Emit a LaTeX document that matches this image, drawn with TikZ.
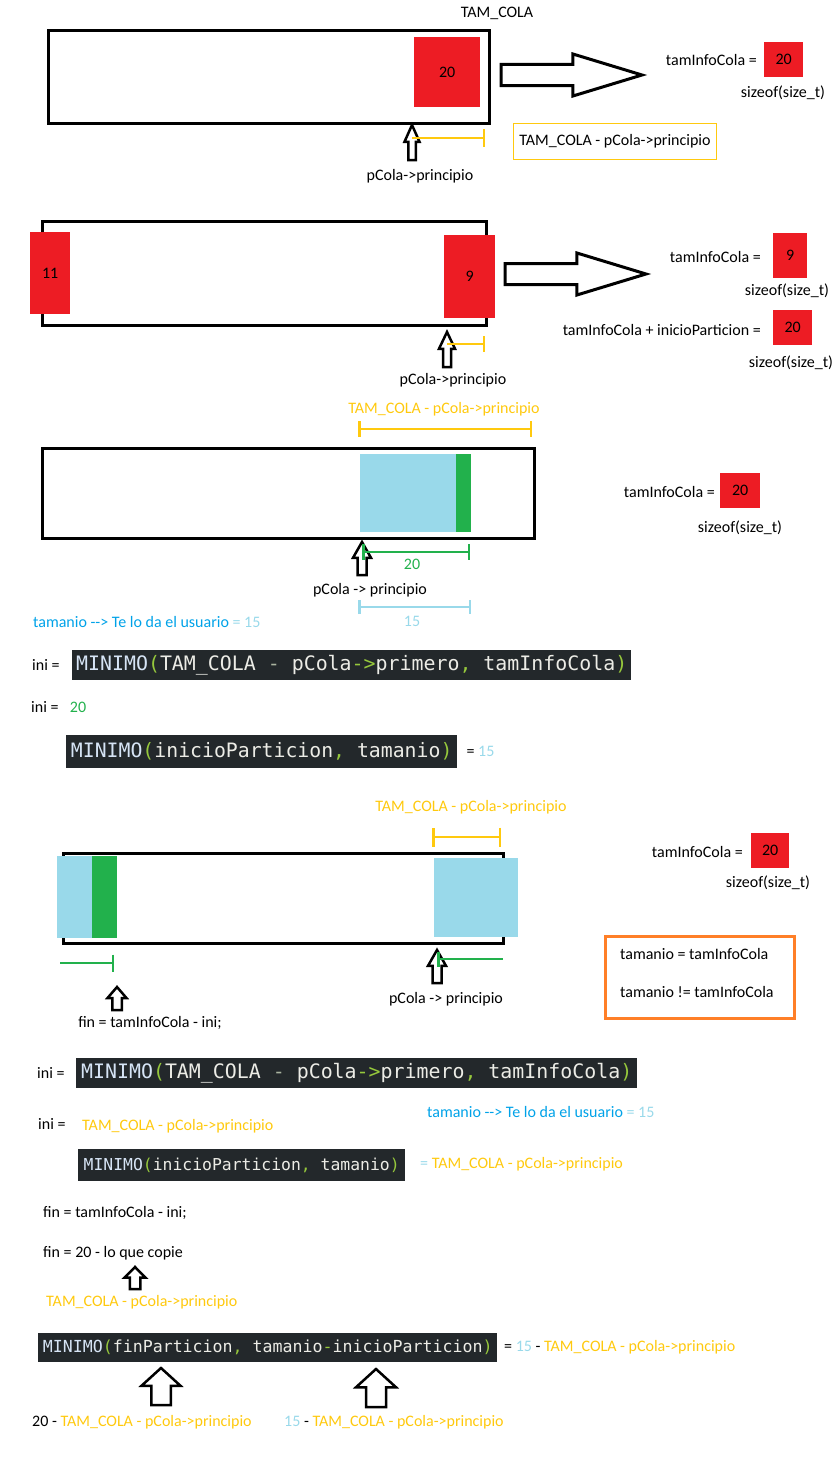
\documentclass[tikz,border=0pt]{standalone}
\usepackage{fontspec}
\setmainfont{Carlito}
\newfontfamily\codefont{DejaVu Sans Mono}
\usepackage{xcolor}
\definecolor{paintred}{RGB}{237, 28, 36}
\definecolor{gold}{RGB}{255, 201, 14}
\definecolor{lightblue}{RGB}{153, 217, 234}
\definecolor{paintgreen}{RGB}{34, 177, 76}
\definecolor{paintorange}{RGB}{255, 127, 39}
\definecolor{turq}{RGB}{0, 162, 232}
\definecolor{codebg}{RGB}{35, 40, 43}
\definecolor{codeid}{RGB}{236, 236, 230}
\definecolor{codefn}{RGB}{214, 228, 245}
\definecolor{codeop}{RGB}{150, 200, 60}
\definecolor{codeminus}{RGB}{170, 180, 160}
\usepackage{tikz}
\usetikzlibrary{positioning, calc, arrows.meta}
\tikzstyle{txt} = [inner sep=0pt, font=\fontsize{16}{19}\selectfont]
\tikzstyle{queue} = [draw, line width=3pt, inner sep=0pt, anchor=north west]
\tikzstyle{cell} = [fill=paintred, inner sep=0pt, anchor=north west, font=\fontsize{16}{19}\selectfont]
\tikzstyle{codebox} = [fill=codebg, text=codeid, inner sep=0pt, anchor=west, font=\codefont\fontsize{19.9}{24}\selectfont]
\tikzstyle{dimline} = [line width=2.5pt]
\tikzset{
  hollowup/.pic={\draw[line width=2.5pt, fill=white, line join=miter] (0,0) -- (0.5,0.48) -- (0.25,0.48) -- (0.25,1) -- (-0.25,1) -- (-0.25,0.48) -- (-0.5,0.48) -- cycle;},
  hollowright/.pic={\draw[line width=3pt, fill=white, line join=miter] (0,0) -- (-0.49,-0.5) -- (-0.49,-0.25) -- (-1,-0.25) -- (-1,0.25) -- (-0.49,0.25) -- (-0.49,0.5) -- cycle;}
}
\newcommand{\cfn}[1]{\textcolor{codefn}{#1}}
\newcommand{\cop}[1]{\textcolor{codeop}{#1}}
\newcommand{\cmin}{\textcolor{codeminus}{-}}

\begin{document}
\begin{tikzpicture}[x=1pt, y=-1pt]
    \useasboundingbox (0,0) rectangle (840,1472);

    % cola con un elemento
    \node[txt] (tamcola) at (497,13) {TAM\_COLA};
    \node[queue, minimum width=441, minimum height=93] (cola1) at (47,29) {};
    \node[cell, minimum width=66, minimum height=70] (elem1) at (414,37) {20};
    \pic[xscale=141, yscale=42] at (642,75) {hollowright};
    \node[txt, anchor=east] (info1) at (757,60) {tamInfoCola =};
    \node[cell, minimum width=39, minimum height=35] (val1) at (764,42) {20};
    \node[txt] (size1) at (783,93) {sizeof(size\_t)};
    \pic[xscale=15, yscale=35] at (412,125) {hollowup};
    \draw[dimline, gold, -{Bar[width=18pt]}] (412,138) -- (485,138);
    \node[txt, draw=gold, line width=1pt, minimum width=203, minimum height=36] (resta1) at (615,141) {TAM\_COLA - pCola->principio};
    \node[txt] (ppio1) at (420,176) {pCola->principio};

    % elemento partido
    \node[queue, line width=2.5pt, minimum width=444, minimum height=104] (cola2) at (41,220) {};
    \node[cell, minimum width=40, minimum height=82] (elem2a) at (30,232) {11};
    \node[cell, minimum width=51, minimum height=83] (elem2b) at (444,235) {9};
    \pic[xscale=141, yscale=42] at (646,274) {hollowright};
    \node[txt, anchor=east] (info2) at (761,257) {tamInfoCola =};
    \node[cell, minimum width=34, minimum height=45] (val2) at (773,233) {9};
    \node[txt] (size2) at (787,291) {sizeof(size\_t)};
    \node[txt, anchor=east] (suma2) at (761,330) {tamInfoCola + inicioParticion =};
    \node[cell, minimum width=39, minimum height=35] (val2b) at (773,310) {20};
    \node[txt] (size2b) at (791,363) {sizeof(size\_t)};
    \pic[xscale=16, yscale=35] at (447,332) {hollowup};
    \draw[dimline, gold, -{Bar[width=16pt]}] (447,344) -- (485,344);
    \node[txt] (ppio2) at (453,380) {pCola->principio};

    % copia sin partir
    \node[txt, text=gold] (resta3) at (444,409) {TAM\_COLA - pCola->principio};
    \draw[dimline, gold, {Bar[width=16pt]}-{Bar[width=16pt]}] (358,429) -- (532,429);
    \node[queue, minimum width=492, minimum height=90] (cola3) at (41,447) {};
    \fill[lightblue] (360,454) rectangle (456,532);
    \fill[paintgreen] (456,454) rectangle (471,532);
    \pic[xscale=18, yscale=33] at (362,542) {hollowup};
    \draw[dimline, paintgreen, {Bar[width=16pt]}-{Bar[width=16pt]}] (362,552) -- (470,552);
    \node[txt, text=paintgreen] (veinte3) at (412,564) {20};
    \node[txt] (ppio3) at (370,590) {pCola -> principio};
    \draw[dimline, lightblue, {Bar[width=14pt]}-{Bar[width=14pt]}] (358,607) -- (471,607);
    \node[txt, text=lightblue] (quince3) at (412,621) {15};
    \node[txt, anchor=west, text=turq] (tam3) at (33,622) {tamanio -{}-> Te lo da el usuario \textcolor{lightblue}{= 15}};
    \node[txt, anchor=east] (info3) at (715,492) {tamInfoCola =};
    \node[cell, minimum width=40, minimum height=35] (val3) at (720,473) {20};
    \node[txt] (size3) at (740,528) {sizeof(size\_t)};

    \node[txt, anchor=west] (ini1) at (32,665) {ini =};
    \node[codebox, minimum width=559, minimum height=30] (min1) at (72,665) {\cfn{MINIMO}\cop{(}TAM\_COLA \cmin{} pCola\cop{->}primero\cop{,} tamInfoCola\cop{)}};
    \node[txt, anchor=west] (ini2) at (31,707) {ini =};
    \node[txt, text=paintgreen, right=11pt of ini2] (veinte4) {20};
    \node[codebox, font=\codefont\fontsize{19.8}{24}\selectfont, minimum width=391, minimum height=33] (min2) at (66,751.5) {\cfn{MINIMO}\cop{(}inicioParticion\cop{,} tamanio\cop{)}};
    \node[txt, right=9pt of min2] (res2) {= \textcolor{lightblue}{15}};

    % copia partida
    \node[txt, text=gold] (resta4) at (471,807) {TAM\_COLA - pCola->principio};
    \draw[dimline, gold, {Bar[width=19pt]}-{Bar[width=19pt]}] (432,837) -- (501,837);
    \node[queue, minimum width=440, minimum height=90] (cola4) at (62,852) {};
    \fill[lightblue] (57,856) rectangle (92,938);
    \fill[paintgreen] (92,856) rectangle (117,938);
    \fill[lightblue] (434,858) rectangle (518,937);
    \draw[dimline, paintgreen, -{Bar[width=17pt]}] (60,963) -- (114,963);
    \pic[xscale=19, yscale=23] at (117,987) {hollowup};
    \node[txt] (fin4) at (150,1023) {fin = tamInfoCola - ini;};
    \pic[xscale=18, yscale=33] at (437,950) {hollowup};
    \draw[dimline, paintgreen, {Bar[width=15pt]}-] (437,959) -- (503,959);
    \node[txt] (ppio4) at (446,999) {pCola -> principio};
    \node[txt, anchor=east] (info4) at (743,852) {tamInfoCola =};
    \node[cell, minimum width=38, minimum height=35] (val4) at (751,833) {20};
    \node[txt] (size4) at (768,883) {sizeof(size\_t)};
    \node[draw=paintorange, line width=3pt, minimum width=189, minimum height=82, anchor=north west] (casos) at (604,935) {};
    \node[txt, anchor=west] (igual) at (620,954) {tamanio = tamInfoCola};
    \node[txt, anchor=west] (distinto) at (620,992) {tamanio != tamInfoCola};

    \node[txt, anchor=west] (ini3) at (37,1073) {ini =};
    \node[codebox, minimum width=561, minimum height=30] (min3) at (76,1073) {\cfn{MINIMO}\cop{(}TAM\_COLA \cmin{} pCola\cop{->}primero\cop{,} tamInfoCola\cop{)}};
    \node[txt, anchor=west, text=turq] (tam5) at (427,1112) {tamanio -{}-> Te lo da el usuario \textcolor{lightblue}{= 15}};
    \node[txt, anchor=west] (ini4) at (38,1124) {ini =};
    \node[txt, anchor=west, text=gold] (resta5) at (82,1126) {TAM\_COLA - pCola->principio};
    \node[codebox, font=\codefont\fontsize{16.4}{20}\selectfont, minimum width=327, minimum height=32] (min4) at (78,1165) {\cfn{MINIMO}\cop{(}inicioParticion\cop{,} tamanio\cop{)}};
    \node[txt, anchor=west, text=gold] (res4) at (420,1164) {\textcolor{lightblue}{=} TAM\_COLA - pCola->principio};
    \node[txt, anchor=west] (fin5) at (43,1213) {fin = tamInfoCola - ini;};
    \node[txt, anchor=west] (fin6) at (43,1253) {fin = 20 - lo que copie};
    \pic[xscale=21, yscale=22] at (135,1267) {hollowup};
    \node[txt, anchor=west, text=gold] (resta6) at (46,1302) {TAM\_COLA - pCola->principio};
    \node[codebox, font=\codefont\fontsize{16.6}{20}\selectfont, minimum width=459, minimum height=29] (min5) at (38,1347.5) {\cfn{MINIMO}\cop{(}finParticion\cop{,} tamanio\cop{-}inicioParticion\cop{)}};
    \node[txt, anchor=west] (res5) at (504,1347) {= \textcolor{lightblue}{15} - \textcolor{gold}{TAM\_COLA - pCola->principio}};
    \pic[xscale=39, yscale=37] at (161,1368) {hollowup};
    \pic[xscale=40, yscale=38] at (376,1369) {hollowup};
    \node[txt, anchor=west] (arg1) at (32,1422) {20 - \textcolor{gold}{TAM\_COLA - pCola->principio}};
    \node[txt, anchor=west] (arg2) at (284,1422) {\textcolor{lightblue}{15} - \textcolor{gold}{TAM\_COLA - pCola->principio}};
\end{tikzpicture}
\end{document}
